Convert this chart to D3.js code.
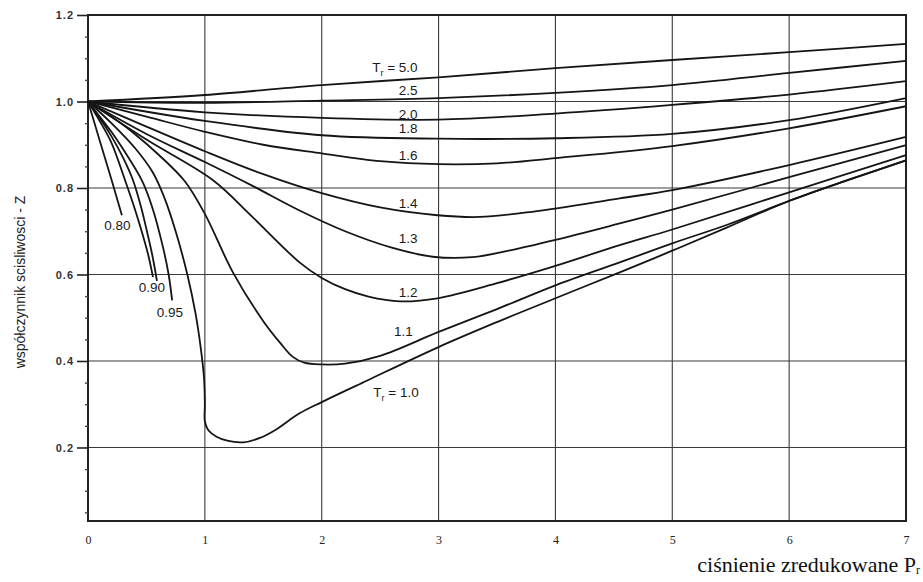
<!DOCTYPE html>
<html>
<head>
<meta charset="utf-8">
<script src="https://cdn.jsdelivr.net/npm/d3@7"></script>
<style>
  body { margin: 0; background: #fff; }
  svg { display: block; }
</style>
</head>
<body>
<div id="chart"></div>
<script>
// reduced pressure ticks and Z ticks
const prTicks = [0, 1, 2, 3, 4, 5, 6, 7];
const zTicks = [0.2, 0.4, 0.6, 0.8, 1.0, 1.2];
const zMinorTicks = [0.05, 0.1, 0.15, 0.25, 0.3, 0.35, 0.45, 0.5, 0.55, 0.65, 0.7, 0.75, 0.85, 0.9, 0.95, 1.05, 1.1, 1.15];

// isotherms, [Pr, Z]
const tr50 = [[0, 1], [1, 1.015], [2, 1.038], [3, 1.056], [4, 1.077], [5, 1.096], [6, 1.114], [7, 1.133]];
const tr25 = [[0, 1], [1, 0.997], [2, 1.002], [3, 1.008], [4, 1.02], [5, 1.038], [6, 1.066], [7, 1.094]];
const tr20 = [[0, 1], [1, 0.975], [2, 0.962], [3, 0.958], [4, 0.972], [5, 0.992], [6, 1.016], [7, 1.047]];
const tr18 = [[0, 1], [1, 0.955], [2, 0.922], [3, 0.914], [4, 0.915], [5, 0.925], [6, 0.957], [7, 1.008]];
const tr16 = [[0, 1], [0.5, 0.965], [1, 0.93], [1.5, 0.9], [2, 0.88], [2.5, 0.862], [3, 0.855], [3.5, 0.857], [4, 0.869], [5, 0.897], [6, 0.938], [7, 0.989]];
const tr14 = [[0, 1], [0.5, 0.942], [1, 0.885], [1.5, 0.832], [2, 0.788], [2.5, 0.755], [2.99, 0.737], [3.35, 0.733], [3.8, 0.745], [4.55, 0.776], [5, 0.795], [6, 0.853], [7, 0.918]];
const tr13 = [[0, 1], [0.5, 0.925], [1, 0.86], [1.4, 0.806], [1.81, 0.748], [2.2, 0.7], [2.6, 0.662], [2.95, 0.641], [3.29, 0.64], [3.6, 0.655], [4, 0.68], [4.55, 0.718], [5, 0.75], [6, 0.825], [7, 0.899]];
const tr12 = [[0, 1], [0.5, 0.912], [1.07, 0.818], [1.4, 0.735], [1.81, 0.628], [2, 0.592], [2.2, 0.566], [2.4, 0.549], [2.67, 0.538], [2.99, 0.545], [3.5, 0.58], [4, 0.62], [4.55, 0.668], [5, 0.704], [6, 0.79], [7, 0.876]];
const tr11 = [[0, 1], [0.2, 0.965], [0.4, 0.925], [0.6, 0.878], [0.83, 0.815], [1, 0.74], [1.24, 0.605], [1.5, 0.492], [1.65, 0.44], [1.75, 0.41], [1.85, 0.396], [2, 0.392], [2.2, 0.394], [2.5, 0.412], [2.99, 0.466], [3.5, 0.52], [4, 0.575], [4.55, 0.628], [5, 0.672], [5.47, 0.715], [6, 0.77], [6.5, 0.818], [7, 0.864]];
const tr10 = [[0, 1], [0.2, 0.95], [0.4, 0.893], [0.55, 0.838], [0.65, 0.78], [0.75, 0.7], [0.85, 0.6], [0.92, 0.51], [0.965, 0.43], [0.993, 0.36], [1.0, 0.3], [1.0, 0.26], [1.03, 0.24], [1.1, 0.225], [1.2, 0.215], [1.33, 0.212], [1.47, 0.222], [1.6, 0.24], [1.81, 0.279], [2, 0.305], [2.39, 0.355], [2.99, 0.431], [3.5, 0.49], [4, 0.545], [4.55, 0.605], [5, 0.655], [5.47, 0.709], [6, 0.77], [6.5, 0.818], [7, 0.864]];
const tr095 = [[0, 1], [0.1, 0.965], [0.2, 0.93], [0.3, 0.89], [0.46, 0.818], [0.55, 0.755], [0.64, 0.665], [0.69, 0.6], [0.72, 0.54]];
const tr090 = [[0, 1], [0.1, 0.962], [0.2, 0.92], [0.3, 0.87], [0.385, 0.818], [0.45, 0.76], [0.5, 0.705], [0.55, 0.645], [0.59, 0.585]];
const tr085 = [[0, 1], [0.1, 0.955], [0.2, 0.905], [0.317, 0.818], [0.4, 0.752], [0.47, 0.69], [0.52, 0.64], [0.556, 0.594]];
const tr080 = [[0, 1], [0.1, 0.91], [0.2, 0.82], [0.29, 0.737]];

const isotherms = [tr50, tr25, tr20, tr18, tr16, tr14, tr13, tr12, tr11, tr10, tr095, tr090, tr085, tr080];

// curve labels: text, Pr, Z (anchor point in data units)
const labelText = ["5.0", "2.5", "2.0", "1.8", "1.6", "1.4", "1.3", "1.2", "1.1", "1.0", "0.80", "0.90", "0.95"];
const labelPr = [2.82, 2.82, 2.82, 2.82, 2.82, 2.82, 2.82, 2.82, 2.78, 2.83, 0.252, 0.547, 0.70];
const labelZ = [1.068, 1.015, 0.959, 0.927, 0.864, 0.753, 0.672, 0.547, 0.457, 0.316, 0.702, 0.559, 0.501];
const labelWithT = ["5.0", "1.0"];

const width = 923;
const height = 582;
const margin = { top: 15, right: 17, bottom: 61, left: 88 };

const svg = d3.select("#chart")
  .append("svg")
  .attr("width", width)
  .attr("height", height);

const x = d3.scaleLinear().domain([0, 7]).range([margin.left, width - margin.right]);
const y = d3.scaleLinear().domain([0.03, 1.2]).range([height - margin.bottom, margin.top]);

// grid
svg.append("g")
  .selectAll("line")
  .data(prTicks.slice(1, -1))
  .enter()
  .append("line")
  .attr("x1", (d) => x(d))
  .attr("x2", (d) => x(d))
  .attr("y1", y(1.2))
  .attr("y2", y(0.03))
  .attr("stroke", "#3a3a3a")
  .attr("stroke-width", 1.1);

svg.append("g")
  .selectAll("line")
  .data(zTicks.slice(0, -1))
  .enter()
  .append("line")
  .attr("x1", x(0))
  .attr("x2", x(7))
  .attr("y1", (d) => y(d))
  .attr("y2", (d) => y(d))
  .attr("stroke", "#3a3a3a")
  .attr("stroke-width", 1.2);

// frame
svg.append("rect")
  .attr("x", x(0))
  .attr("y", y(1.2))
  .attr("width", x(7) - x(0))
  .attr("height", y(0.03) - y(1.2))
  .attr("fill", "none")
  .attr("stroke", "#222")
  .attr("stroke-width", 2);

// y axis
const yAxis = svg.append("g")
  .attr("transform", "translate(" + x(0) + ",0)")
  .call(d3.axisLeft(y).tickValues(zTicks).tickFormat(d3.format(".1f")).tickSize(11).tickPadding(3));
yAxis.select(".domain").remove();
yAxis.selectAll("line").attr("stroke", "#222").attr("stroke-width", 1.6);
yAxis.selectAll("text")
  .attr("font-family", "Liberation Sans, Arial, sans-serif")
  .attr("font-size", "11px")
  .attr("font-weight", "bold")
  .attr("letter-spacing", "1px")
  .attr("fill", "#333");

const yMinor = svg.append("g")
  .attr("transform", "translate(" + x(0) + ",0)")
  .call(d3.axisLeft(y).tickValues(zMinorTicks).tickFormat("").tickSize(3));
yMinor.select(".domain").remove();
yMinor.selectAll("line").attr("stroke", "#444").attr("stroke-width", 1.4);

// x axis
const xAxis = svg.append("g")
  .attr("transform", "translate(0," + y(0.03) + ")")
  .call(d3.axisBottom(x).tickValues(prTicks).tickFormat(d3.format("d")).tickSize(0).tickPadding(14));
xAxis.select(".domain").remove();
xAxis.selectAll("text")
  .attr("font-family", "Liberation Serif, Times New Roman, serif")
  .attr("font-size", "12px")
  .attr("fill", "#222");

// isotherm curves
const line = d3.line()
  .x((d) => x(d[0]))
  .y((d) => y(d[1]))
  .curve(d3.curveCatmullRom.alpha(0.5));

svg.append("g")
  .selectAll("path")
  .data(isotherms)
  .enter()
  .append("path")
  .attr("d", line)
  .attr("fill", "none")
  .attr("stroke", "#151515")
  .attr("stroke-width", 1.8);

// curve labels
labelText.forEach((t, i) => {
  const small = labelPr[i] < 1;
  const text = svg.append("text")
    .attr("x", x(labelPr[i]))
    .attr("y", y(labelZ[i]))
    .attr("text-anchor", small ? "middle" : "end")
    .attr("font-family", "Liberation Sans, Arial, sans-serif")
    .attr("font-size", "13.5px")
    .attr("fill", "#1a1a1a");
  if (labelWithT.includes(t)) {
    text.append("tspan").text("T");
    text.append("tspan").attr("font-size", "9px").attr("dy", 4).text("r");
    text.append("tspan").attr("dy", -4).text(" = " + t);
  } else {
    text.text(t);
  }
});

// axis titles
svg.append("text")
  .attr("transform", "translate(25," + 282 + ") rotate(-90)")
  .attr("text-anchor", "middle")
  .attr("font-family", "Liberation Sans, Arial, sans-serif")
  .attr("font-size", "14px")
  .attr("fill", "#222")
  .text("współczynnik scisliwosci - Z");

const xTitle = svg.append("text")
  .attr("x", 920)
  .attr("y", 572)
  .attr("text-anchor", "end")
  .attr("font-family", "Liberation Serif, Times New Roman, serif")
  .attr("font-size", "22px")
  .attr("fill", "#111");
xTitle.append("tspan").text("ciśnienie zredukowane P");
xTitle.append("tspan").attr("font-size", "12px").attr("dy", 2).text("r");
</script>
</body>
</html>
